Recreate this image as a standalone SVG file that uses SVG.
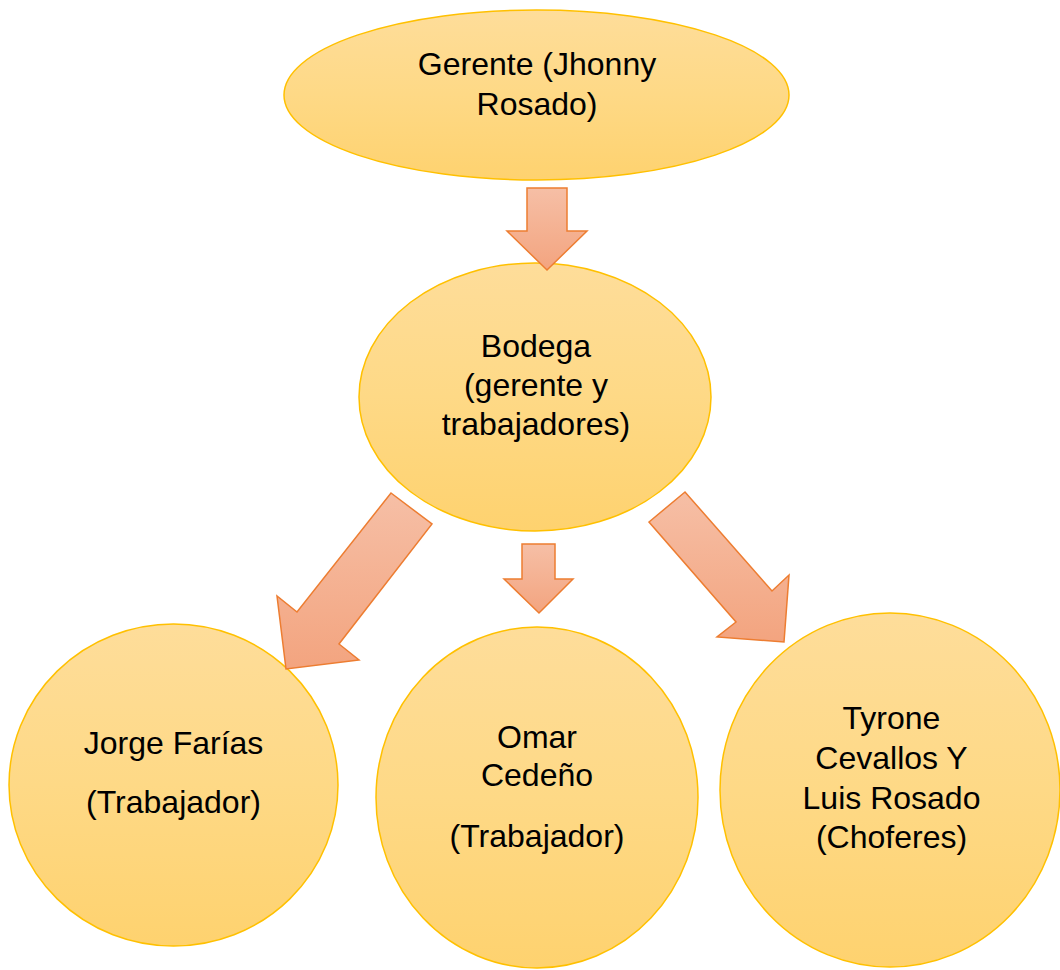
<svg xmlns="http://www.w3.org/2000/svg" width="1060" height="970" viewBox="0 0 1060 970">
  <defs>
    <linearGradient id="gNode" x1="0" y1="0" x2="0" y2="1">
      <stop offset="0" stop-color="#FEDD9A"/>
      <stop offset="0.5" stop-color="#FED986"/>
      <stop offset="1" stop-color="#FED26F"/>
    </linearGradient>
    <linearGradient id="gArrow" x1="0" y1="0" x2="0" y2="1">
      <stop offset="0" stop-color="#F6BFA6"/>
      <stop offset="1" stop-color="#F3A47F"/>
    </linearGradient>
    <style>
      .node { fill: url(#gNode); stroke: #FFC000; stroke-width: 1.5; }
      .arrow { fill: url(#gArrow); stroke: #ED7D31; stroke-width: 1.5; stroke-linejoin: miter; }
      .label { font-family: "Liberation Sans", Arial, sans-serif; font-size: 32px; fill: #000000; text-anchor: middle; }
    </style>
  </defs>

  <g id="node-gerente">
    <ellipse class="node" cx="536.5" cy="95" rx="252.5" ry="85"/>
    <text class="label" x="537" y="75">Gerente (Jhonny</text>
    <text class="label" x="537" y="115">Rosado)</text>
  </g>

  <g id="node-bodega">
    <ellipse class="node" cx="535" cy="397" rx="176" ry="134"/>
    <text class="label" x="536" y="357">Bodega</text>
    <text class="label" x="536" y="396">(gerente y</text>
    <text class="label" x="536" y="435">trabajadores)</text>
  </g>

  <g id="node-jorge">
    <ellipse class="node" cx="173.5" cy="785" rx="164.5" ry="161"/>
    <text class="label" x="173.5" y="754">Jorge Farías</text>
    <text class="label" x="173.5" y="813">(Trabajador)</text>
  </g>

  <g id="node-omar">
    <ellipse class="node" cx="537" cy="797.5" rx="161" ry="170.5"/>
    <text class="label" x="537" y="748">Omar</text>
    <text class="label" x="537" y="786">Cedeño</text>
    <text class="label" x="537" y="847">(Trabajador)</text>
  </g>

  <g id="node-tyrone">
    <ellipse class="node" cx="890" cy="790" rx="170" ry="177"/>
    <text class="label" x="891.5" y="729">Tyrone</text>
    <text class="label" x="891.5" y="769">Cevallos Y</text>
    <text class="label" x="891.5" y="809">Luis Rosado</text>
    <text class="label" x="891.5" y="848">(Choferes)</text>
  </g>

  <g id="connectors">
    <polygon class="arrow" points="527,188 567,188 567,231 587,231 547,270 507,231 527,231"/>
    <polygon class="arrow" points="522,544 555,544 555,579 573,579 539,613 504,579 522,579"/>
    <polygon class="arrow" points="391,493 432,524 339,644 359,660 286,669 277,596 297,612"/>
    <polygon class="arrow" points="685,492 649,522 736,622 717,637 784,642 789,575 772,591"/>
  </g>
</svg>
